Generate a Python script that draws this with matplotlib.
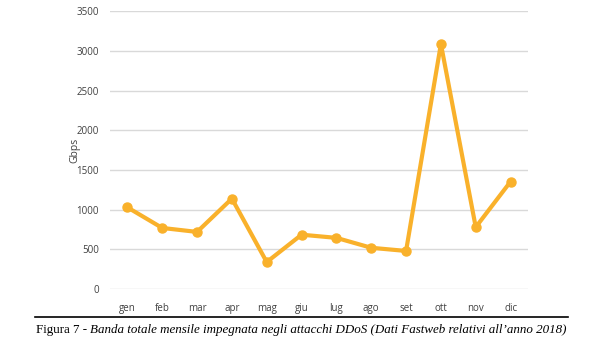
import matplotlib
matplotlib.use("Agg")
import matplotlib.pyplot as plt

# monthly DDoS bandwidth (Gbps)
months = ["gen", "feb", "mar", "apr", "mag", "giu", "lug", "ago", "set", "ott", "nov", "dic"]
gbps = [1030, 770, 720, 1140, 340, 685, 645, 520, 480, 3090, 780, 1355]
yticks = [0, 500, 1000, 1500, 2000, 2500, 3000, 3500]

caption_head = "Figura 7 - "
caption_body = "Banda totale mensile impegnata negli attacchi DDoS (Dati Fastweb relativi all\u2019anno 2018)"

fig = plt.figure(figsize=(5.9, 3.48), dpi=100)
ax = fig.add_axes([0.1864, 0.1695, 0.7085, 0.7975])

x = range(len(months))
ax.plot(x, gbps, color="#F9B12B", linewidth=3, marker="o", markersize=6.5,
        solid_joinstyle="round", zorder=3)

ax.set_xlim(-0.5, len(months) - 0.5)
ax.set_ylim(0, 3500)
ax.set_yticks(yticks)
ax.set_xticks(list(x))
ax.set_xticklabels(months)
ax.grid(axis="y", color="#D9D9D9", linewidth=1)
ax.set_axisbelow(True)
for s in ax.spines.values():
    s.set_visible(False)
ax.tick_params(length=0, labelsize=7, labelcolor="#404040", pad=8)
ax.tick_params(axis="x", pad=10)
for lbl in ax.get_xticklabels() + ax.get_yticklabels():
    lbl.set_family("Open Sans")
ax.set_ylabel("Gbps", fontsize=7.5, color="#404040", family="Open Sans")
ax.yaxis.set_label_coords(-0.072, 0.5)

# caption rule and text
fig.add_artist(plt.Line2D([35 / 590, 568 / 590], [0.0885, 0.0885], color="black", linewidth=1.2))
t1 = fig.text(36 / 590, 0.052, caption_head, fontsize=9.4, family="Liberation Serif",
              va="center", ha="left")
fig.canvas.draw()
bb = t1.get_window_extent()
fig.text(bb.x1 / fig.bbox.width, 0.052, caption_body, fontsize=9.4, family="Liberation Serif",
         style="italic", va="center", ha="left")

fig.savefig("out.png", dpi=100)
